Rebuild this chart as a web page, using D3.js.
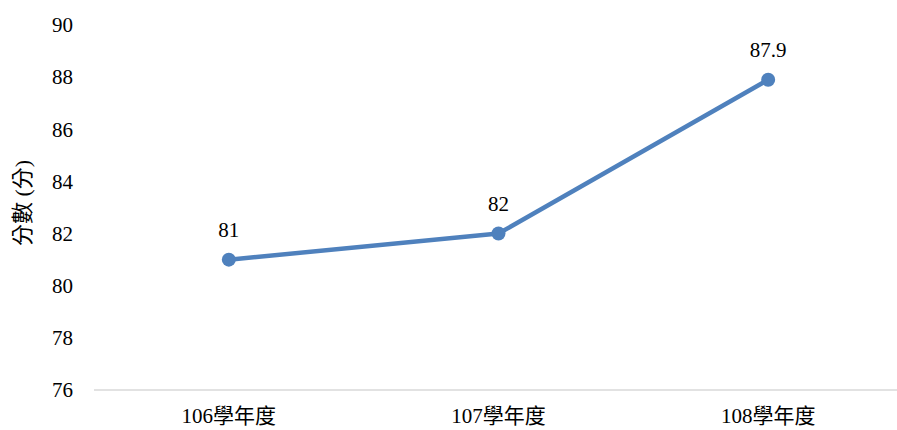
<!DOCTYPE html>
<html>
<head>
<meta charset="utf-8">
<script src="https://cdn.jsdelivr.net/npm/d3@7"></script>
<style>
  html, body { margin: 0; padding: 0; background: #fff; }
  svg { display: block; }
</style>
</head>
<body>
<svg id="chart" width="897" height="430"></svg>
<script>
// Average score per school year
const categories = ["106學年度", "107學年度", "108學年度"];
const scores = [81, 82, 87.9];
const yTicks = [76, 78, 80, 82, 84, 86, 88, 90];
const yTitle = "分數 (分)";

const FONT = "'Liberation Serif', 'Noto Sans CJK TC', serif";

const svg = d3.select("#chart");
const plot = { left: 94, right: 903, top: 25, bottom: 390 };

const x = d3.scaleBand().domain(categories).range([plot.left, plot.right]);
const y = d3.scaleLinear().domain([76, 90]).range([plot.bottom, plot.top]);

// baseline axis
svg.append("line")
  .attr("x1", plot.left).attr("x2", plot.right)
  .attr("y1", y(76)).attr("y2", y(76))
  .attr("stroke", "#d9d9d9").attr("stroke-width", 1.5);

// y tick labels
const yAxis = d3.axisLeft(y).tickValues(yTicks).tickSize(0).tickPadding(0);
const gy = svg.append("g").attr("transform", "translate(73,0)").call(yAxis);
gy.select(".domain").remove();
gy.attr("font-family", null).attr("font-size", null);
gy.selectAll("text")
  .style("font-family", FONT)
  .style("font-size", "21px")
  .attr("fill", "#000");

// x category labels
const xAxis = d3.axisBottom(x).tickSize(0).tickPadding(0);
const gx = svg.append("g").attr("transform", `translate(0,${plot.bottom + 18})`).call(xAxis);
gx.select(".domain").remove();
gx.attr("font-family", null).attr("font-size", null);
gx.selectAll("text")
  .style("font-family", FONT)
  .style("font-size", "21px")
  .attr("fill", "#000");

// y title
svg.append("text")
  .attr("transform", `translate(30,203) rotate(-90)`)
  .attr("text-anchor", "middle")
  .style("font-family", FONT)
  .style("font-size", "22px")
  .attr("fill", "#000")
  .text(yTitle);

const cx = d => x(d) + x.bandwidth() / 2;
const data = categories.map((c, i) => ({ c, v: scores[i] }));

// series line
svg.append("path")
  .datum(data)
  .attr("fill", "none")
  .attr("stroke", "#4f81bd")
  .attr("stroke-width", 4.5)
  .attr("stroke-linejoin", "round")
  .attr("d", d3.line().x(d => cx(d.c)).y(d => y(d.v)));

// markers
svg.selectAll("circle.pt")
  .data(data).enter().append("circle")
  .attr("class", "pt")
  .attr("cx", d => cx(d.c)).attr("cy", d => y(d.v))
  .attr("r", 7)
  .attr("fill", "#4f81bd");

// value labels
svg.selectAll("text.val")
  .data(data).enter().append("text")
  .attr("class", "val")
  .attr("x", d => cx(d.c)).attr("y", d => y(d.v) - 23)
  .attr("text-anchor", "middle")
  .style("font-family", FONT)
  .style("font-size", "21px")
  .attr("fill", "#000")
  .text(d => d.v);
</script>
</body>
</html>
